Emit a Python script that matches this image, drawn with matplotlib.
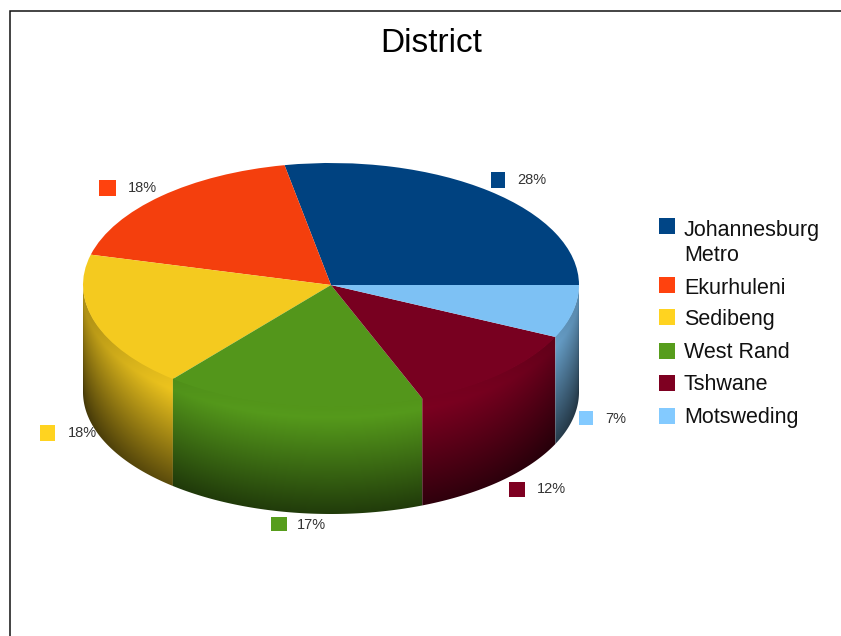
import numpy as np
import matplotlib
matplotlib.use('Agg')
import matplotlib.pyplot as plt
from matplotlib.patches import Rectangle, PathPatch
from matplotlib.path import Path

plt.rcParams['font.family'] = ['Liberation Sans', 'DejaVu Sans']

# Share of each district
districts = ['Johannesburg\nMetro', 'Ekurhuleni', 'Sedibeng', 'West Rand', 'Tshwane', 'Motsweding']
shares = [28, 18, 18, 17, 12, 7]
colours = ['#004586', '#ff420e', '#ffd320', '#579d1c', '#7e0021', '#83caff']
title = 'District'

W, H = 841, 636
# pie geometry in pixels
CX, CY, RX, RY, DEPTH = 331, 285, 248, 122, 107
d = DEPTH / RY

# where the value labels and legend rows sit (pixels)
label_squares = [(491, 172, 14, 16), (99, 180, 17, 16), (40, 425, 15, 16),
                 (271, 517, 16, 14), (509, 482, 16, 15), (579, 411, 14, 14)]
label_text = [(517, 180), (128, 188), (68, 433), (297, 525), (537, 489), (605, 419)]
legend_rows = [218, 277, 309, 343, 375, 408]
legend_text = [243, 288, 320, 353, 385, 418]

fig = plt.figure(figsize=(W / 100, H / 100), dpi=100, facecolor='white')

# top of the pie is a normal pie on a squashed axes
ax = fig.add_axes([(CX - RX) / W, 1 - (CY + RY + DEPTH) / H, 2 * RX / W, (2 * RY + DEPTH) / H])
top_colours = [tuple(0.955 * c for c in matplotlib.colors.to_rgb(col)) for col in colours]
ax.pie(shares, colors=top_colours, startangle=0, counterclock=True, radius=1.0,
       wedgeprops={'linewidth': 0, 'zorder': 5})

# shading of the side wall: depends on distance below the rim, darker to the sides
xs = np.linspace(-1, 1, 500)
ys = np.linspace(1, -1 - d, 400)
xx, yy = np.meshgrid(xs, ys)
rim = -np.sqrt(1 - xx ** 2)
v = np.clip((rim - yy) / d, 0, 1)
shade = np.interp(v, [0, 0.1, 1], [0.955, 0.98, 0.38]) * (1 - 0.3 * np.abs(xx) ** 4)

angles = np.cumsum([0] + shares) * 3.6
for col, a0, a1 in zip(colours, angles[:-1], angles[1:]):
    lo, hi = max(a0, 180), min(a1, 360)
    if hi <= lo:
        continue
    t = np.radians(np.linspace(lo, hi, 80))
    # wall starts a hair above the rim so no pale seam shows under the top
    top = np.column_stack([np.cos(t), np.sin(t) + 0.008])
    bottom = np.column_stack([np.cos(t[::-1]), np.sin(t[::-1]) - d])
    outline = Path(np.vstack([top, bottom, top[:1]]), closed=True)
    rgb = np.array(matplotlib.colors.to_rgb(col))
    im = ax.imshow(shade[..., None] * rgb, extent=(-1, 1, -1 - d, 1), aspect='auto',
                   interpolation='bilinear', zorder=1)
    clip = PathPatch(outline, transform=ax.transData, facecolor='none', edgecolor='none')
    ax.add_patch(clip)
    im.set_clip_path(clip)

ax.set_aspect('auto')
ax.set_xlim(-1, 1)
ax.set_ylim(-1 - d, 1)
ax.axis('off')

# everything else goes on a pixel overlay
over = fig.add_axes([0, 0, 1, 1], zorder=10)
over.set_xlim(0, W)
over.set_ylim(H, 0)
over.axis('off')
over.patch.set_alpha(0)

over.plot([W, 10.5, 10.5], [11, 11, H], color='#111111', lw=1.1, solid_joinstyle='miter')
over.text(431, 43, title, fontsize=24, ha='center', va='center', color='black')

for col, share, sq, pos in zip(colours, shares, label_squares, label_text):
    over.add_patch(Rectangle(sq[:2], sq[2], sq[3], facecolor=col, edgecolor='none'))
    over.text(pos[0], pos[1], '%d%%' % share, fontsize=10.5, va='center', color='#333333')

for col, name, row, ty in zip(colours, districts, legend_rows, legend_text):
    over.add_patch(Rectangle((659, row), 16, 16, facecolor=col, edgecolor='none'))
    over.text(684, ty, name, fontsize=15.5, va='center', color='#111111', linespacing=1.26)

fig.savefig('out.png', dpi=100)
